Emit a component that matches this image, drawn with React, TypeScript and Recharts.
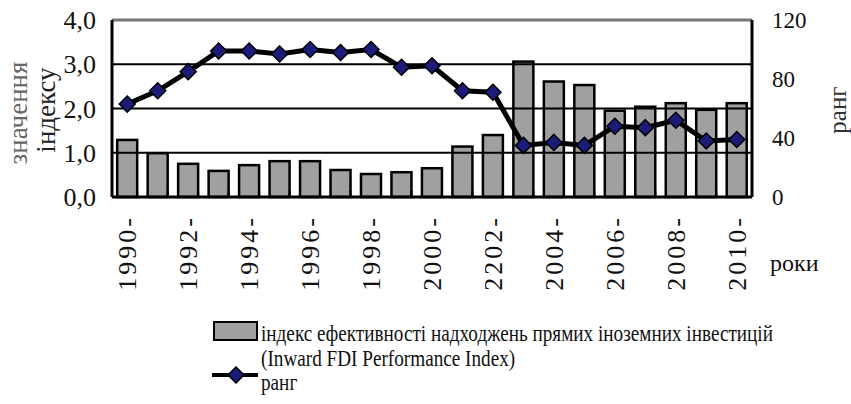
import { ComposedChart, Bar, Line, XAxis, YAxis, CartesianGrid, ReferenceLine } from 'recharts';

const years = ['1990', '1991', '1992', '1993', '1994', '1995', '1996', '1997', '1998', '1999', '2000',
    '2001', '2002', '2003', '2004', '2005', '2006', '2007', '2008', '2009', '2010'];
// labels printed under the axis (every second year, as in the source, incl. its "2202")
const shownYears = ['1990', '1992', '1994', '1996', '1998', '2000', '2202', '2004', '2006', '2008', '2010'];
const indexValues = [1.29, 0.99, 0.75, 0.59, 0.72, 0.81, 0.81, 0.61, 0.52, 0.56, 0.65,
    1.14, 1.40, 3.06, 2.61, 2.53, 1.95, 2.04, 2.12, 1.97, 2.12];
const rankValues = [63, 72, 85, 99, 99, 97, 100, 98, 100, 88, 89, 72, 71, 35, 37, 35, 48, 47, 52, 38, 39];
const leftTicks = [0, 1, 2, 3, 4];
const rightTicks = [0, 20, 40, 60, 80, 100, 120];

const barName = 'індекс ефективності надходжень прямих іноземних інвестицій';
const barNameEn = '(Inward FDI Performance Index)';
const lineName = 'ранг';

const data = years.map((y, i) => ({ year: y, index: indexValues[i], rank: rankValues[i] }));
const labelByYear: Record<string, string> = {};
years.filter((_, i) => i % 2 === 0).forEach((y, i) => { labelByYear[y] = shownYears[i]; });

const FONT = "'Liberation Serif', 'DejaVu Serif', serif";
const BAR_FILL = '#a0a0a0';
const MARKER = '#1b1b7a';

// rotated year label with the trailing dash
const YearTick = ({ x, y, payload }: any) => (
    <text x={x + 9} y={y + 10} transform={`rotate(-90, ${x + 9}, ${y + 10})`} textAnchor="end"
        style={{ fontFamily: FONT }} fontSize={26} letterSpacing={3} fill="#111">
        {(labelByYear[payload.value] ?? payload.value) + '-'}
    </text>
);

// bar with a small category-boundary mark on the floor, like the original
const BarShape = (props: any) => {
    const { x, y, width, height, background, index } = props;
    const bx = background ? background.x + background.width : x + width + 5;
    const by = y + height;
    return (
        <g>
            <rect x={x} y={y} width={width} height={height} fill={BAR_FILL} stroke="#000" strokeWidth={2.5} />
            {index < years.length - 1 && <line x1={bx} x2={bx} y1={by} y2={by - 6} stroke="#000" strokeWidth={2} />}
        </g>
    );
};

const Diamond = ({ cx, cy }: any) => (
    <path d={`M${cx},${cy - 8} L${cx + 8},${cy} L${cx},${cy + 8} L${cx - 8},${cy} Z`} fill={MARKER} stroke="#000" strokeWidth={1.5} />
);

// legend text: the source print is a little taller than it is wide
const LegendText = ({ x, y, children }: any) => (
    <text transform={`translate(${x}, ${y}) scale(1, 1.22)`} x={0} y={0} fontSize={19.2} fill="#111">{children}</text>
);

export default function App() {
    return (
        <div style={{ position: 'absolute', left: 0, top: 0, width: 851, height: 404, background: '#fff', fontFamily: FONT }}>
            <ComposedChart width={851} height={404} data={data} barCategoryGap="17%"
                style={{ fontFamily: FONT }}
                margin={{ top: 20, right: 39, left: 52, bottom: 107 }}>
                <CartesianGrid horizontal={false} vertical={false} />
                <XAxis dataKey="year" interval={1} height={100} tick={<YearTick />} tickLine={false}
                    axisLine={{ stroke: '#000', strokeWidth: 3 }} />
                <YAxis yAxisId="left" domain={[0, 4]} ticks={leftTicks} width={60} tickLine={false} tickSize={0} tickMargin={16}
                    tickFormatter={(v: number) => v.toFixed(1).replace('.', ',')}
                    axisLine={{ stroke: '#000', strokeWidth: 3 }}
                    tick={{ fontFamily: FONT, fontSize: 26, fill: '#111' }} />
                <YAxis yAxisId="right" orientation="right" domain={[0, 120]} ticks={rightTicks} width={60}
                    tickLine={false} tickSize={0} tickMargin={20}
                    axisLine={{ stroke: '#000', strokeWidth: 3 }}
                    tick={{ fontFamily: FONT, fontSize: 23, fill: '#111', textAnchor: 'start' }} />
                <Bar yAxisId="left" dataKey="index" name={barName} shape={<BarShape />} isAnimationActive={false} />
                {[1, 2, 3].map((v) => (
                    <ReferenceLine key={v} yAxisId="left" y={v} stroke="#000" strokeWidth={2} />
                ))}
                <ReferenceLine yAxisId="left" y={4} stroke="#777" strokeWidth={3} />
                <Line yAxisId="right" dataKey="rank" name={lineName} stroke="#000" strokeWidth={5}
                    dot={<Diamond />} activeDot={false} isAnimationActive={false} />
            </ComposedChart>

            <svg width={851} height={404} style={{ position: 'absolute', left: 0, top: 0, pointerEvents: 'none', fontFamily: FONT }}>
                <text transform="rotate(-90, 27, 113)" x={27} y={113} textAnchor="middle" fontSize={27} fill="#666">значення</text>
                <text transform="rotate(-90, 55, 110)" x={55} y={110} textAnchor="middle" fontSize={27} fill="#222">індексу</text>
                <text transform="rotate(-90, 846, 110)" x={846} y={110} textAnchor="middle" fontSize={25} fill="#333">ранг</text>
                <text x={770} y={271} fontSize={24} fill="#111">роки</text>

                <rect x={214} y={322} width={43} height={18} fill={BAR_FILL} stroke="#000" strokeWidth={2} />
                <LegendText x={261} y={341}>{barName}</LegendText>
                <LegendText x={261} y={366}>{barNameEn}</LegendText>
                <line x1={212} x2={258} y1={375} y2={375} stroke="#000" strokeWidth={4} />
                <Diamond cx={236} cy={375} />
                <LegendText x={261} y={390}>{lineName}</LegendText>
            </svg>
        </div>
    );
}
